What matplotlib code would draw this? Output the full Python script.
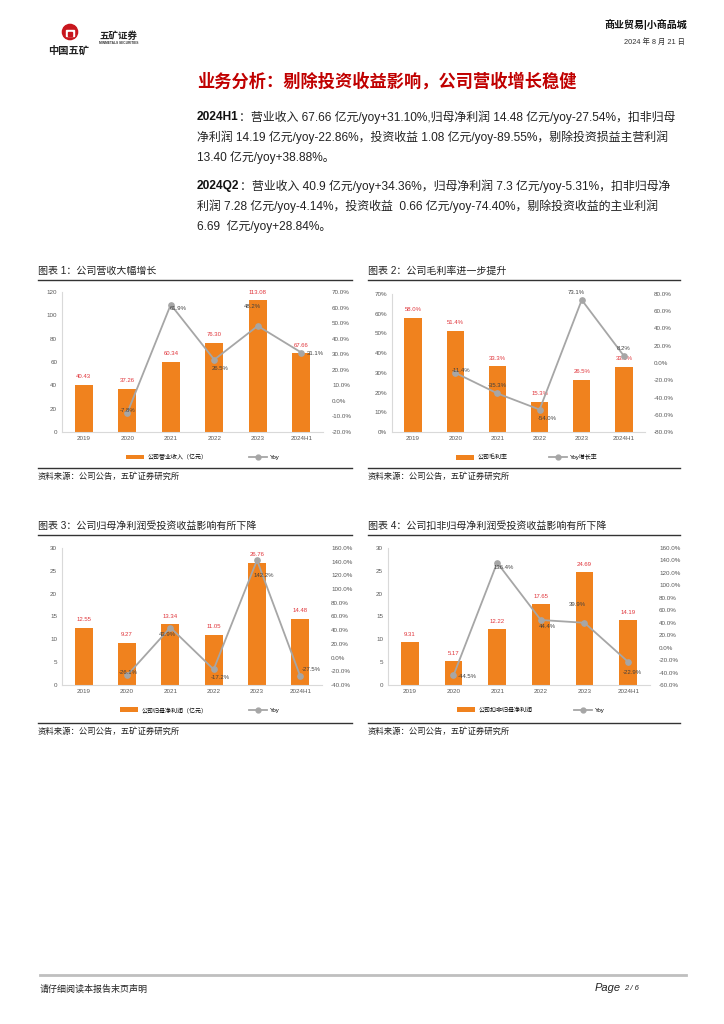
import matplotlib
matplotlib.use('Agg')
import matplotlib.pyplot as plt
from matplotlib.lines import Line2D
from matplotlib.patches import Patch, Circle, Rectangle

plt.rcParams['font.family'] = ['Liberation Sans', 'Noto Sans CJK SC']

# ---- data ----
years = ['2019', '2020', '2021', '2022', '2023', '2024H1']

revenue = [40.43, 37.26, 60.34, 76.30, 113.08, 67.66]
revenue_yoy = [None, -7.8, 61.9, 26.5, 48.2, 31.1]

gross_margin = [58.0, 51.4, 33.3, 15.3, 26.5, 33.1]
gross_margin_yoy = [None, -11.4, -35.3, -54.0, 73.1, 8.2]

net_profit = [12.55, 9.27, 13.34, 11.05, 26.76, 14.48]
net_profit_yoy = [None, -26.1, 43.9, -17.2, 142.2, -27.5]

deducted_profit = [9.31, 5.17, 12.22, 17.65, 24.69, 14.19]
deducted_profit_yoy = [None, -44.5, 136.4, 44.4, 39.9, -22.9]

lead1 = '2024H1'
para1 = ['：营业收入 67.66 亿元/yoy+31.10%,归母净利润 14.48 亿元/yoy-27.54%，扣非归母',
         '净利润 14.19 亿元/yoy-22.86%，投资收益 1.08 亿元/yoy-89.55%，剔除投资损益主营利润',
         '13.40 亿元/yoy+38.88%。']
lead2 = '2024Q2'
para2 = ['：营业收入 40.9 亿元/yoy+34.36%，归母净利润 7.3 亿元/yoy-5.31%，扣非归母净',
         '利润 7.28 亿元/yoy-4.14%，投资收益  0.66 亿元/yoy-74.40%，剔除投资收益的主业利润',
         '6.69  亿元/yoy+28.84%。']

ORANGE = '#F0821E'
GRAY = '#A6A6A6'
RED_LBL = '#E0353B'
TXT = '#595959'

W, H = 724, 1024
fig = plt.figure(figsize=(W / 100, H / 100), dpi=100)
renderer = fig.canvas.get_renderer()


def text(x, y, s, **kw):
    kw.setdefault('va', 'center')
    return fig.text(x / W, 1 - y / H, s, **kw)


def hline(x0, x1, y, **kw):
    fig.add_artist(Line2D([x0 / W, x1 / W], [1 - y / H] * 2, transform=fig.transFigure, **kw))


# ---- header ----
logo = fig.add_axes([60 / W, 1 - 42 / H, 20 / W, 20 / H])
logo.set_xlim(0, 1)
logo.set_ylim(0, 1)
logo.axis('off')
logo.add_patch(Circle((0.5, 0.5), 0.38, color='#C8161D'))
logo.add_patch(Rectangle((0.3, 0.28), 0.4, 0.3, color='white'))
logo.add_patch(Rectangle((0.38, 0.3), 0.24, 0.2, color='#C8161D'))
text(48, 51, '中国五矿', fontsize=7.4, fontweight='bold', color='#222222')
text(99, 36, '五矿证券', fontsize=6.8, fontweight='bold', color='#222222')
text(99, 43.5, 'MINMETALS SECURITIES', fontsize=2.3, fontweight='bold', color='#333333')
text(687, 25, '商业贸易|小商品城', fontsize=7.2, fontweight='bold', ha='right', color='#111111')
text(685, 42, '2024 年 8 月 21 日', fontsize=5.3, ha='right', color='#333333')

text(387, 81, '业务分析：剔除投资收益影响，公司营收增长稳健', fontsize=12.4, fontweight='bold',
     color='#C00000', ha='center')

BODY = 8.6


def paragraph(y0, lead, lines):
    t = text(197, y0, lead, fontsize=BODY, fontweight='bold', color='#111111')
    lead_w = t.get_window_extent(renderer).width
    for i, line in enumerate(lines):
        x = 197 + (lead_w if i == 0 else 0)
        text(x, y0 + 20 * i, line, fontsize=BODY, color='#222222')


paragraph(117, lead1, para1)
paragraph(186, lead2, para2)


def draw_chart(frame, axbox, title, bars, yoy, bar_fmt, ylim, ystep, left_fmt,
               y2lim, y2step, legend_labels, legend_x, offsets):
    fx0, fx1, ty = frame
    l, r, t, b = axbox
    text(fx0, ty - 9, title, fontsize=7.2, color='#222222')
    hline(fx0, fx1, ty, color='#333333', lw=1.0)
    hline(fx0, fx1, ty + 188, color='#333333', lw=1.0)
    text(fx0, ty + 197, '资料来源：公司公告，五矿证券研究所', fontsize=6.0, color='#222222')

    ax = fig.add_axes([l / W, 1 - b / H, (r - l) / W, (b - t) / H])
    x = list(range(len(years)))
    ax.bar(x, bars, width=0.41, color=ORANGE, zorder=2)
    for i, v in enumerate(bars):
        ax.annotate(bar_fmt.format(v), (i, v), xytext=(0, 4), textcoords='offset points',
                    ha='center', va='bottom', fontsize=4.3, color=RED_LBL)
    ax.set_xlim(-0.5, len(years) - 0.5)
    ax.set_ylim(*ylim)
    ticks = []
    v = ylim[0]
    while v <= ylim[1] + 1e-9:
        ticks.append(v)
        v += ystep
    ax.set_yticks(ticks)
    ax.set_yticklabels([left_fmt.format(t_) for t_ in ticks])
    ax.set_xticks(x)
    ax.set_xticklabels(years)
    for s in ['top', 'right']:
        ax.spines[s].set_visible(False)
    for s in ['left', 'bottom']:
        ax.spines[s].set_color('#D9D9D9')
        ax.spines[s].set_linewidth(0.8)
    ax.tick_params(axis='y', length=0, labelsize=4.5, labelcolor=TXT, pad=3.5)
    ax.tick_params(axis='x', length=0, labelsize=4.5, labelcolor=TXT, pad=3)

    ax2 = ax.twinx()
    xs = [i for i, v in enumerate(yoy) if v is not None]
    ys = [v for v in yoy if v is not None]
    ax2.plot(xs, ys, color=GRAY, lw=1.3, marker='o', ms=3.8, zorder=3)
    for (i, v), (dx, dy) in zip(zip(xs, ys), offsets):
        ax2.annotate('{:.1f}%'.format(v), (i, v), xytext=(dx * 0.72, -dy * 0.72),
                     textcoords='offset points', ha='center', va='center', fontsize=4.3, color='#404040')
    ax2.set_ylim(*y2lim)
    t2 = []
    v = y2lim[0]
    while v <= y2lim[1] + 1e-9:
        t2.append(v)
        v += y2step
    ax2.set_yticks(t2)
    ax2.set_yticklabels(['{:.1f}%'.format(t_) for t_ in t2])
    for s in ax2.spines.values():
        s.set_visible(False)
    ax2.tick_params(axis='y', length=0, labelsize=4.5, labelcolor=TXT, pad=6.5)

    handles = [Patch(facecolor=ORANGE, edgecolor='none'),
               Line2D([], [], color=GRAY, lw=1.3, marker='o', ms=3.5)]
    fig.legend(handles, legend_labels, loc='center', bbox_to_anchor=(legend_x / W, 1 - (b + 25) / H),
               bbox_transform=fig.transFigure, ncol=2, frameon=False, fontsize=4.3,
               handlelength=3.0, handleheight=0.9, columnspacing=7.0, handletextpad=0.5)


draw_chart((38, 352, 280), (62, 323, 292, 432), '图表 1：公司营收大幅增长',
           revenue, revenue_yoy, '{:.2f}', (0, 120), 20, '{:.0f}', (-20, 70), 10,
           ['公司营业收入（亿元）', 'Yoy'], 203,
           [(0, -3), (7, 4), (6, 9), (-5, -19), (14, 1)])

draw_chart((368, 680, 280), (392, 645, 294, 432), '图表 2：公司毛利率进一步提升',
           gross_margin, gross_margin_yoy, '{:.1f}%', (0, 70), 10, '{:.0f}%', (-80, 80), 20,
           ['公司毛利率', 'Yoy增长率'], 527,
           [(6, -2), (0, -8), (8, 9), (-6, -7), (0, -7)])

draw_chart((38, 352, 535), (62, 322, 548, 685), '图表 3：公司归母净利润受投资收益影响有所下降',
           net_profit, net_profit_yoy, '{:.2f}', (0, 30), 5, '{:.0f}', (-40, 160), 20,
           ['公司归母净利润（亿元）', 'Yoy'], 200,
           [(1, -3), (-3, 7), (7, 8), (7, 15), (11, -7)])

draw_chart((368, 680, 535), (388, 650, 548, 685), '图表 4：公司扣非归母净利润受投资收益影响有所下降',
           deducted_profit, deducted_profit_yoy, '{:.2f}', (0, 30), 5, '{:.0f}', (-60, 160), 20,
           ['公司扣非归母净利润', 'Yoy'], 531,
           [(14, 1), (7, 5), (7, 7), (-7, -18), (4, 11)])

# ---- footer ----
hline(40, 686, 975, color='#BFBFBF', lw=2.0)
text(40, 989, '请仔细阅读本报告末页声明', fontsize=6.5, style='italic', color='#222222')
text(595, 988, 'Page', fontsize=8, style='italic', color='#222222')
text(624, 988, '2 / 6', fontsize=5.5, style='italic', color='#222222')

fig.savefig('out.png', dpi=100)
